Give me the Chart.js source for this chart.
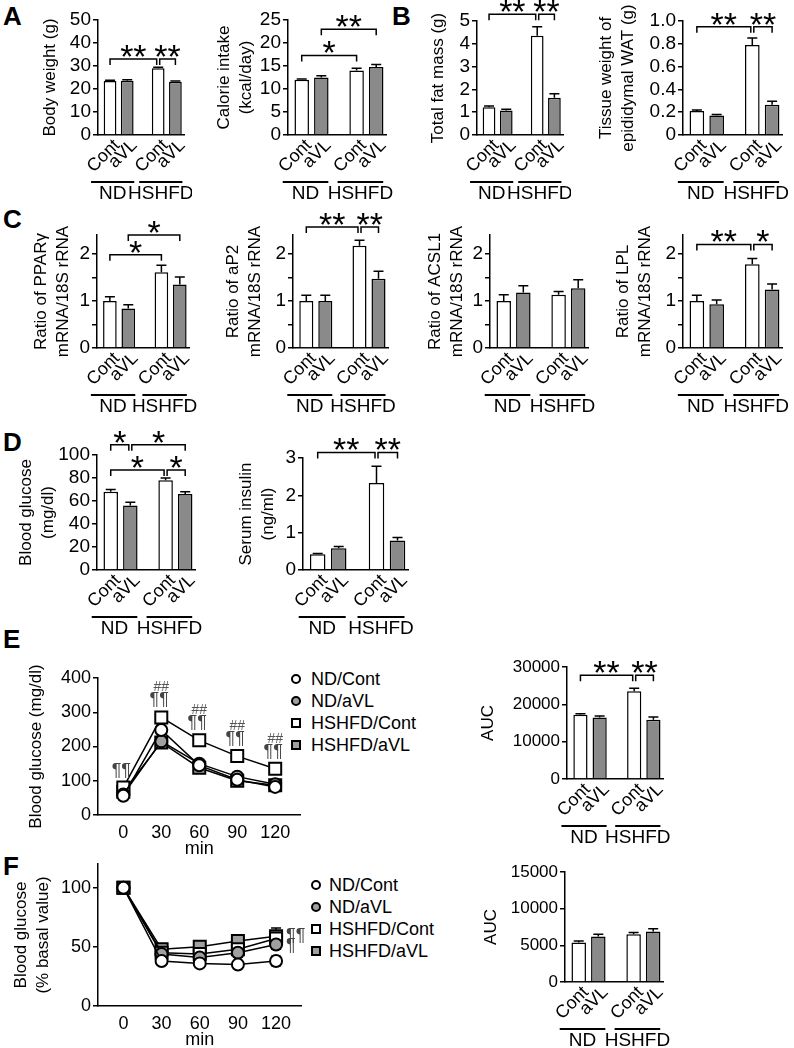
<!DOCTYPE html>
<html>
<head>
<meta charset="UTF-8">
<title>Figure</title>
<script src="https://cdn.jsdelivr.net/npm/chart.js@4.4.1/dist/chart.umd.min.js"></script>
<style>
  html, body { margin: 0; padding: 0; background: #fff; }
  #fig { position: relative; width: 794px; height: 1048px; overflow: hidden;
         font-family: 'Liberation Sans', Arial, sans-serif; color: #000; }
  canvas { position: absolute; }
  .letter { position: absolute; font-weight: bold; font-size: 26px; line-height: 1; }
  .legend { position: absolute; font-size: 18px; }
  .legend div { position: relative; height: 22px; line-height: 22px; white-space: nowrap; }
  .mk { position: absolute; left: 0; top: 6px; width: 6px; height: 6px; border: 2px solid #000; }
  .circ { border-radius: 50%; }
</style>
</head>
<body>
<div id="fig">
  <div class="letter" style="left:3px;top:3px">A</div>
  <div class="letter" style="left:392px;top:3px">B</div>
  <div class="letter" style="left:3px;top:206px">C</div>
  <div class="letter" style="left:3px;top:429px">D</div>
  <div class="letter" style="left:3px;top:626px">E</div>
  <div class="letter" style="left:3px;top:853px">F</div>

  <div class="legend" style="left:291px;top:668px">
    <div style="padding-left:20px"><span class="mk circ" style="background:#fff"></span>ND/Cont</div>
    <div style="padding-left:20px"><span class="mk circ" style="background:#a0a0a0"></span>ND/aVL</div>
    <div style="padding-left:20px"><span class="mk" style="background:#fff"></span>HSHFD/Cont</div>
    <div style="padding-left:20px"><span class="mk" style="background:#a0a0a0"></span>HSHFD/aVL</div>
  </div>
  <div class="legend" style="left:311px;top:874px">
    <div style="padding-left:18px"><span class="mk circ" style="background:#fff"></span>ND/Cont</div>
    <div style="padding-left:18px"><span class="mk circ" style="background:#a0a0a0"></span>ND/aVL</div>
    <div style="padding-left:18px"><span class="mk" style="background:#fff"></span>HSHFD/Cont</div>
    <div style="padding-left:18px"><span class="mk" style="background:#a0a0a0"></span>HSHFD/aVL</div>
  </div>
</div>

<script>
// bar positions / labels shared by all bar panels
const barX = [0, 1, 2.8, 3.8];
const barLabels = ['Cont', 'aVL', 'Cont', 'aVL'];
const groupLabels = ['ND', 'HSHFD'];

// A
const bodyWeight = [23.5, 23.6, 29.0, 23.1];
const bodyWeightErr = [0.3, 0.4, 0.5, 0.4];
const calorieIntake = [12.0, 12.5, 14.0, 14.8];
const calorieIntakeErr = [0.2, 0.4, 0.5, 0.5];
// B
const fatMass = [1.22, 1.08, 4.35, 1.63];
const fatMassErr = [0.05, 0.05, 0.4, 0.18];
const watWeight = [0.21, 0.17, 0.79, 0.265];
const watWeightErr = [0.01, 0.01, 0.06, 0.03];
// C
const ppargRatio = [1.0, 0.84, 1.61, 1.35];
const ppargErr = [0.09, 0.08, 0.15, 0.16];
const ap2Ratio = [1.0, 1.0, 2.17, 1.47];
const ap2Err = [0.12, 0.12, 0.12, 0.16];
const acsl1Ratio = [1.0, 1.18, 1.13, 1.27];
const acsl1Err = [0.13, 0.14, 0.07, 0.18];
const lplRatio = [1.0, 0.93, 1.78, 1.24];
const lplErr = [0.12, 0.09, 0.12, 0.12];
// D
const glucose = [68, 56, 78, 66];
const glucoseErr = [2, 3, 2, 2];
const insulin = [0.42, 0.58, 2.33, 0.79];
const insulinErr = [0.02, 0.05, 0.45, 0.08];
// E (GTT)
const minutes = [0, 30, 60, 90, 120];
const seriesNames = ['ND/Cont', 'ND/aVL', 'HSHFD/Cont', 'HSHFD/aVL'];
const gttNDCont = [56, 248, 145, 103, 82];
const gttNDaVL = [60, 215, 150, 112, 90];
const gttHSCont = [80, 285, 218, 172, 135];
const gttHSaVL = [68, 212, 138, 100, 87];
const gttNDContErr = [4, 10, 6, 5, 4];
const gttNDaVLErr = [4, 8, 6, 6, 4];
const gttHSContErr = [6, 10, 8, 8, 10];
const gttHSaVLErr = [5, 8, 6, 6, 5];
const gttHash = ['', '##', '##', '##', '##'];
const gttPilcrow = ['¶¶', '¶¶', '¶¶', '¶¶', '¶¶'];
const gttAUC = [17200, 16500, 23500, 15900];
const gttAUCErr = [300, 400, 800, 700];
// F (ITT)
const ittNDCont = [100, 38, 36, 35, 38];
const ittNDaVL = [100, 44, 41, 45, 52];
const ittHSCont = [100, 45, 44, 48, 57];
const ittHSaVL = [100, 48, 50, 55, 59];
const ittNDContErr = [0, 2, 2, 2, 4];
const ittNDaVLErr = [0, 2, 2, 3, 4];
const ittHSContErr = [0, 3, 3, 4, 6];
const ittHSaVLErr = [0, 2, 3, 3, 7];
const ittAUC = [5400, 6200, 6500, 6900];
const ittAUCErr = [200, 300, 250, 350];

// mRNA ratio axis: ticks every 0.5, labelled at whole numbers
const ratioTicks = [0, 0.5, 1, 1.5, 2];
const ratioTickLabels = ['0', ' ', '1', ' ', '2'];

const FONT = "'Liberation Sans', Arial, sans-serif";
const NARROW = "'Liberation Sans Narrow', 'Liberation Sans', Arial, sans-serif";
const GREY_BAR = '#8a8a8a';
const GREY_PT = '#a0a0a0';
const barFill = ['#ffffff', GREY_BAR, '#ffffff', GREY_BAR];
const seriesShape = ['circle', 'circle', 'rect', 'rect'];
const seriesFill = ['#ffffff', GREY_PT, '#ffffff', GREY_PT];

Chart.defaults.font.family = FONT;
Chart.defaults.color = '#000';

const fig = document.getElementById('fig');

function place(id, left, top, w, h) {
  const c = document.createElement('canvas');
  c.id = id;
  c.width = w; c.height = h;
  c.style.left = left + 'px'; c.style.top = top + 'px';
  c.style.width = w + 'px'; c.style.height = h + 'px';
  fig.appendChild(c);
  return c;
}

function yScale(s, yW) {
  return {
    min: 0, max: s.max,
    afterFit: sc => { sc.width = yW; },
    afterBuildTicks: sc => {
      if (s.tickValues) sc.ticks = s.tickValues.map(v => ({ value: v }));
      else if (s.keep) sc.ticks = sc.ticks.filter(t => s.keep(t.value));
    },
    ticks: { stepSize: s.step, autoSkip: false, font: { family: FONT, size: s.tickSize || 19 }, color: '#000', padding: 2,
             callback: (v, i) => (s.tickText ? s.tickText[i] : s.fmt ? s.fmt(v) : String(v)) },
    grid: { display: true, drawOnChartArea: false, drawTicks: true, tickLength: 5, color: '#000', lineWidth: 1.5 },
    border: { display: true, color: '#000', width: 1.5 },
    title: { display: true, text: s.title, color: '#000',
             font: { family: FONT, size: 17, lineHeight: 1.25 }, padding: { top: 2, bottom: 0 } }
  };
}

// star text sitting just above a bracket line
function starText(ctx, text, cx, lineY) {
  ctx.font = '34px ' + FONT;
  ctx.textAlign = 'center';
  ctx.textBaseline = 'alphabetic';
  const m = ctx.measureText(text);
  ctx.fillText(text, cx, lineY - 2 - m.actualBoundingBoxDescent);
}

function barDecor(s) {
  return {
    id: 'decor',
    afterDatasetsDraw(chart) {
      const { ctx, scales: { x, y }, chartArea } = chart;
      ctx.save();
      ctx.strokeStyle = '#000';
      ctx.fillStyle = '#000';
      ctx.lineWidth = 1.5;
      // error bars (upper half only)
      s.values.forEach((v, i) => {
        const px = x.getPixelForValue(barX[i]);
        const y0 = y.getPixelForValue(v), y1 = y.getPixelForValue(v + s.errs[i]);
        ctx.beginPath();
        ctx.moveTo(px, y0); ctx.lineTo(px, y1);
        ctx.moveTo(px - 5, y1); ctx.lineTo(px + 5, y1);
        ctx.stroke();
      });
      // significance brackets
      (s.brackets || []).forEach(br => {
        const [a, b, lv, label] = br;
        let xa = x.getPixelForValue(barX[a]), xb = x.getPixelForValue(barX[b]);
        const others = s.brackets.filter(o => o !== br && o[2] === lv);
        if (others.some(o => o[0] === b)) xb -= 1.5;
        if (others.some(o => o[1] === a)) xa += 1.5;
        const ly = y.getPixelForValue(lv);
        ctx.beginPath();
        ctx.moveTo(xa, ly + 6); ctx.lineTo(xa, ly); ctx.lineTo(xb, ly); ctx.lineTo(xb, ly + 6);
        ctx.stroke();
        starText(ctx, label, (xa + xb) / 2, ly);
      });
      // diet groups under the tick labels
      const gy = chartArea.bottom + 47;
      ctx.lineWidth = 2;
      ctx.font = '19px ' + NARROW;
      ctx.textAlign = 'center';
      ctx.textBaseline = 'top';
      groupLabels.forEach((g, k) => {
        const x1 = x.getPixelForValue(barX[2 * k]) - 19;
        const x2 = x.getPixelForValue(barX[2 * k + 1]) + 7;
        ctx.beginPath(); ctx.moveTo(x1, gy); ctx.lineTo(x2, gy); ctx.stroke();
        ctx.fillText(g, (x1 + x2) / 2, gy + 2);
      });
      ctx.restore();
    }
  };
}

function barChart(s) {
  const lh = 17 * 1.25;
  const left = Math.round(s.titleX - lh / 2 - 2);
  const padT = 50, xH = 75, padR = 8;
  const top = s.yTop - padT;
  const W = s.axisRight + padR - left, H = s.yZero - top + xH;
  const yW = s.axisX - left;
  const cv = place(s.id, left, top, W, H);
  new Chart(cv, {
    type: 'bar',
    data: {
      datasets: [{
        data: s.values.map((v, i) => ({ x: barX[i], y: v })),
        backgroundColor: barFill, borderColor: '#000', borderWidth: 1.5,
        barPercentage: 0.74, categoryPercentage: 1
      }]
    },
    options: {
      responsive: false, animation: false,
      layout: { padding: { top: padT, right: padR, left: 0, bottom: 0 } },
      plugins: { legend: { display: false }, tooltip: { enabled: false } },
      scales: {
        x: {
          type: 'linear', min: -0.7, max: 4.3, offset: false,
          afterBuildTicks: sc => { sc.ticks = barX.map(v => ({ value: v })); },
          afterFit: sc => { sc.height = xH; },
          ticks: { autoSkip: false, minRotation: 45, maxRotation: 45, padding: 0, labelOffset: 7,
                   font: { family: FONT, size: 18 }, color: '#000', callback: (v, i) => barLabels[i] },
          grid: { display: false, drawTicks: false },
          border: { display: true, color: '#000', width: 1.5 }
        },
        y: yScale(s, yW)
      }
    },
    plugins: [barDecor(s)]
  });
}

function lineDecor(s) {
  return {
    id: 'ldecor',
    beforeDatasetsDraw(chart) {
      const { ctx, scales: { x, y } } = chart;
      ctx.save();
      ctx.strokeStyle = '#000';
      ctx.lineWidth = 1.5;
      s.series.forEach((vals, k) => {
        vals.forEach((v, i) => {
          const e = s.errs[k][i];
          if (!e) return;
          const px = x.getPixelForValue(minutes[i]);
          const ya = y.getPixelForValue(v - e), yb = y.getPixelForValue(v + e);
          ctx.beginPath();
          ctx.moveTo(px, ya); ctx.lineTo(px, yb);
          ctx.moveTo(px - 5, ya); ctx.lineTo(px + 5, ya);
          ctx.moveTo(px - 5, yb); ctx.lineTo(px + 5, yb);
          ctx.stroke();
        });
      });
      ctx.restore();
    },
    afterDatasetsDraw(chart) {
      const { ctx, scales: { x, y } } = chart;
      ctx.save();
      ctx.textBaseline = 'middle';
      if (s.marks === 'gtt') {
        ctx.textAlign = 'center';
        minutes.forEach((t, i) => {
          const px = x.getPixelForValue(t), py = y.getPixelForValue(gttHSCont[i]);
          ctx.fillStyle = '#444';
          ctx.font = '18px ' + FONT;
          ctx.fillText(gttPilcrow[i], px - 2, py - 17);
          if (gttHash[i]) {
            ctx.fillStyle = '#555';
            ctx.font = '14px ' + FONT;
            ctx.fillText(gttHash[i], px, py - 30);
          }
        });
      } else {
        ctx.textAlign = 'left';
        ctx.fillStyle = '#444';
        ctx.font = '18px ' + FONT;
        const px = x.getPixelForValue(minutes[4]) + 10;
        ctx.fillText('¶¶', px, y.getPixelForValue(ittHSaVL[4]));
        ctx.fillText('¶', px, y.getPixelForValue(ittNDaVL[4]) + 2);
      }
      ctx.restore();
    }
  };
}

function lineChart(s) {
  const lh = 17 * 1.25;
  const left = Math.round(s.titleX - lh / 2 - 2);
  const padT = 20, xH = 45, padR = 4;
  const top = s.yTop - padT;
  const W = s.axisRight + padR - left, H = s.yZero - top + xH;
  const yW = s.axisX - left;
  const cv = place(s.id, left, top, W, H);
  const datasets = s.series.map((vals, k) => ({
    label: seriesNames[k],
    data: vals.map((v, i) => ({ x: minutes[i], y: v })),
    borderColor: '#000', borderWidth: 1.5, tension: 0, fill: false,
    pointStyle: seriesShape[k], pointRadius: seriesShape[k] === 'rect' ? 8.5 : 6,
    pointBackgroundColor: seriesFill[k], pointBorderColor: '#000', pointBorderWidth: 2
  }));
  new Chart(cv, {
    type: 'line',
    data: { datasets },
    options: {
      responsive: false, animation: false,
      layout: { padding: { top: padT, right: padR, left: 0, bottom: 0 } },
      plugins: { legend: { display: false }, tooltip: { enabled: false } },
      scales: {
        x: {
          type: 'linear', min: -20, max: 140,
          afterBuildTicks: sc => { sc.ticks = minutes.map(v => ({ value: v })); },
          afterFit: sc => { sc.height = xH; },
          ticks: { autoSkip: false, maxRotation: 0, padding: 7, font: { family: FONT, size: 18 }, color: '#000',
                   callback: v => String(v) },
          grid: { display: false, drawTicks: false },
          border: { display: true, color: '#000', width: 1.5 },
          title: { display: true, text: 'min', color: '#000', font: { family: FONT, size: 18, lineHeight: 1.2 },
                   padding: { top: 0, bottom: 0 } }
        },
        y: yScale(s, yW)
      }
    },
    plugins: [lineDecor(s)]
  });
}

const c24 = { max: 2.4, step: 0.5, tickValues: ratioTicks, tickText: ratioTickLabels };

barChart({ id: 'a1', values: bodyWeight, errs: bodyWeightErr, title: 'Body weight (g)', titleX: 51,
  axisX: 98, axisRight: 184, yTop: 20, yZero: 135, max: 50, step: 10,
  brackets: [[0, 2, 33, '**'], [2, 3, 33, '**']] });
barChart({ id: 'a2', values: calorieIntake, errs: calorieIntakeErr, title: ['Calorie intake', '(kcal/day)'], titleX: 225,
  axisX: 288, axisRight: 386, yTop: 20, yZero: 135, max: 25, step: 5,
  brackets: [[0, 2, 17.3, '*'], [1, 3, 23, '**']] });
barChart({ id: 'b1', values: fatMass, errs: fatMassErr, title: 'Total fat mass (g)', titleX: 439,
  axisX: 477, axisRight: 563, yTop: 21, yZero: 135, max: 5, step: 1,
  brackets: [[0, 2, 5.3, '**'], [2, 3, 5.3, '**']] });
barChart({ id: 'b2', values: watWeight, errs: watWeightErr, title: ['Tissue weight of', 'epididymal WAT (g)'], titleX: 607,
  axisX: 683, axisRight: 782, yTop: 21, yZero: 135, max: 1, step: 0.2,
  fmt: v => (v === 0 ? '0' : v.toFixed(1)),
  brackets: [[0, 2, 0.95, '**'], [2, 3, 0.95, '**']] });

barChart(Object.assign({ id: 'c1', values: ppargRatio, errs: ppargErr, title: ['Ratio of PPARγ', 'mRNA/18S rRNA'], titleX: 42,
  axisX: 97, axisRight: 189, yTop: 235, yZero: 348,
  brackets: [[0, 2, 1.98, '*'], [1, 3, 2.4, '*']] }, c24));
barChart(Object.assign({ id: 'c2', values: ap2Ratio, errs: ap2Err, title: ['Ratio of aP2', 'mRNA/18S rRNA'], titleX: 234,
  axisX: 293, axisRight: 388, yTop: 235, yZero: 348,
  brackets: [[0, 2, 2.57, '**'], [2, 3, 2.57, '**']] }, c24));
barChart(Object.assign({ id: 'c3', values: acsl1Ratio, errs: acsl1Err, title: ['Ratio of ACSL1', 'mRNA/18S rRNA'], titleX: 436,
  axisX: 490, axisRight: 588, yTop: 235, yZero: 348, brackets: [] }, c24));
barChart(Object.assign({ id: 'c4', values: lplRatio, errs: lplErr, title: ['Ratio of LPL', 'mRNA/18S rRNA'], titleX: 624,
  axisX: 683, axisRight: 782, yTop: 235, yZero: 348,
  brackets: [[0, 2, 2.2, '**'], [2, 3, 2.2, '*']] }, c24));

barChart({ id: 'd1', values: glucose, errs: glucoseErr, title: ['Blood glucose', '(mg/dl)'], titleX: 27,
  axisX: 97, axisRight: 195, yTop: 455, yZero: 570, max: 100, step: 20,
  brackets: [[0, 1, 109, '*'], [1, 3, 109, '*'], [0, 2, 87, '*'], [2, 3, 87, '*']] });
barChart({ id: 'd2', values: insulin, errs: insulinErr, title: ['Serum insulin', '(ng/ml)'], titleX: 247,
  axisX: 303, axisRight: 408, yTop: 458, yZero: 570, max: 3, step: 1,
  brackets: [[0, 2, 3.15, '**'], [2, 3, 3.15, '**']] });

lineChart({ id: 'e1', series: [gttNDCont, gttNDaVL, gttHSCont, gttHSaVL],
  errs: [gttNDContErr, gttNDaVLErr, gttHSContErr, gttHSaVLErr], marks: 'gtt', tickSize: 18,
  title: 'Blood glucose (mg/dl)', titleX: 37, axisX: 98, axisRight: 307, yTop: 678, yZero: 815, max: 400, step: 100 });
barChart({ id: 'e2', values: gttAUC, errs: gttAUCErr, title: 'AUC', titleX: 489, tickSize: 17,
  axisX: 567, axisRight: 663, yTop: 667, yZero: 779, max: 30000, step: 10000,
  brackets: [[0, 2, 27800, '**'], [2, 3, 27800, '**']] });

lineChart({ id: 'f1', series: [ittNDCont, ittNDaVL, ittHSCont, ittHSaVL],
  errs: [ittNDContErr, ittNDaVLErr, ittHSContErr, ittHSaVLErr], marks: 'itt', tickSize: 18,
  title: ['Blood glucose', '(% basal value)'], titleX: 22, axisX: 98, axisRight: 308, yTop: 864, yZero: 1006,
  max: 120, step: 50, keep: v => v % 50 === 0 });
barChart({ id: 'f2', values: ittAUC, errs: ittAUCErr, title: 'AUC', titleX: 492, tickSize: 17,
  axisX: 565, axisRight: 663, yTop: 872, yZero: 982, max: 15000, step: 5000, brackets: [] });
</script>
</body>
</html>
